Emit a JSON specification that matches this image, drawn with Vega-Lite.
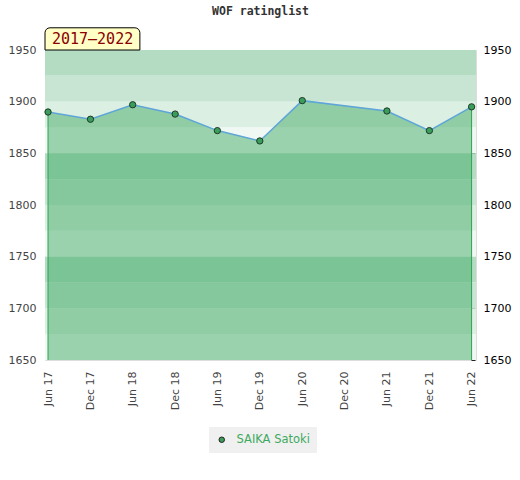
{
  "$schema": "https://vega.github.io/schema/vega-lite/v6.json",
  "description": "WOF ratinglist for SAIKA Satoki, 2017-2022",
  "autosize": "none",
  "padding": {"left": 45, "top": 50, "right": 44, "bottom": 120},
  "width": 431,
  "height": 310,
  "title": {
    "text": "WOF ratinglist",
    "font": "DejaVu Sans Mono",
    "fontSize": 11.5,
    "fontWeight": "bold",
    "color": "#333",
    "anchor": "middle",
    "offset": 10
  },
  "datasets": {
    "ratings": [
      {"date": "2017-06-01", "rating": 1890, "player": "SAIKA Satoki"},
      {"date": "2017-12-01", "rating": 1883, "player": "SAIKA Satoki"},
      {"date": "2018-06-01", "rating": 1897, "player": "SAIKA Satoki"},
      {"date": "2018-12-01", "rating": 1888, "player": "SAIKA Satoki"},
      {"date": "2019-06-01", "rating": 1872, "player": "SAIKA Satoki"},
      {"date": "2019-12-01", "rating": 1862, "player": "SAIKA Satoki"},
      {"date": "2020-06-01", "rating": 1901, "player": "SAIKA Satoki"},
      {"date": "2021-06-01", "rating": 1891, "player": "SAIKA Satoki"},
      {"date": "2021-12-01", "rating": 1872, "player": "SAIKA Satoki"},
      {"date": "2022-06-01", "rating": 1895, "player": "SAIKA Satoki"}
    ],
    "bands": [
      {"lo": 1925, "hi": 1950, "shade": "a"},
      {"lo": 1900, "hi": 1925, "shade": "b"},
      {"lo": 1875, "hi": 1900, "shade": "c"},
      {"lo": 1850, "hi": 1875, "shade": "d"},
      {"lo": 1825, "hi": 1850, "shade": "a"},
      {"lo": 1800, "hi": 1825, "shade": "b"},
      {"lo": 1775, "hi": 1800, "shade": "c"},
      {"lo": 1750, "hi": 1775, "shade": "d"},
      {"lo": 1725, "hi": 1750, "shade": "a"},
      {"lo": 1700, "hi": 1725, "shade": "b"},
      {"lo": 1675, "hi": 1700, "shade": "c"},
      {"lo": 1650, "hi": 1675, "shade": "d"}
    ]
  },
  "layer": [
    {
      "data": {"name": "bands"},
      "mark": {"type": "rect"},
      "encoding": {
        "y": {"field": "lo", "type": "quantitative", "scale": {"domain": [1650, 1950]}, "axis": null},
        "y2": {"field": "hi"},
        "color": {
          "field": "shade",
          "type": "nominal",
          "scale": {"domain": ["a", "b", "c", "d"], "range": ["#b3dcc3", "#c8e5d3", "#dcefe3", "#eff8f2"]},
          "legend": null
        }
      }
    },
    {
      "data": {"name": "ratings"},
      "mark": {"type": "area", "color": "#44ab67", "opacity": 0.5},
      "encoding": {
        "x": {
          "field": "date",
          "type": "temporal",
          "title": null,
          "scale": {
            "type": "utc",
            "nice": false,
            "domain": [
              {"year": 2017, "month": "may", "date": 19, "utc": true},
              {"year": 2022, "month": "jun", "date": 20, "utc": true}
            ]
          },
          "axis": {
            "values": [
              {"year": 2017, "month": "jun", "date": 1, "utc": true},
              {"year": 2017, "month": "dec", "date": 1, "utc": true},
              {"year": 2018, "month": "jun", "date": 1, "utc": true},
              {"year": 2018, "month": "dec", "date": 1, "utc": true},
              {"year": 2019, "month": "jun", "date": 1, "utc": true},
              {"year": 2019, "month": "dec", "date": 1, "utc": true},
              {"year": 2020, "month": "jun", "date": 1, "utc": true},
              {"year": 2020, "month": "dec", "date": 1, "utc": true},
              {"year": 2021, "month": "jun", "date": 1, "utc": true},
              {"year": 2021, "month": "dec", "date": 1, "utc": true},
              {"year": 2022, "month": "jun", "date": 1, "utc": true}
            ],
            "format": "%b %y",
            "labelAngle": -90,
            "labelColor": "#444",
            "labelFontSize": 11,
            "labelPadding": 11,
            "labelOverlap": false,
            "ticks": false,
            "domain": false,
            "grid": false
          }
        },
        "y": {
          "field": "rating",
          "type": "quantitative",
          "title": null,
          "scale": {"domain": [1650, 1950]},
          "axis": {
            "orient": "left",
            "values": [1650, 1700, 1750, 1800, 1850, 1900, 1950],
            "format": "d",
            "labelColor": "#444",
            "labelFontSize": 11,
            "labelPadding": 9,
            "ticks": false,
            "domain": false,
            "grid": false
          }
        },
        "y2": {"datum": 1650}
      }
    },
    {
      "data": {"name": "ratings"},
      "transform": [{"filter": "year(datum.date) == 2017 && month(datum.date) == 5 || year(datum.date) == 2022"}],
      "mark": {"type": "rule", "color": "#2ea44f", "strokeWidth": 1},
      "encoding": {
        "x": {"field": "date", "type": "temporal", "title": null},
        "y": {"field": "rating", "type": "quantitative", "scale": {"domain": [1650, 1950]}, "axis": null},
        "y2": {"datum": 1650}
      }
    },
    {
      "data": {"name": "ratings"},
      "mark": {"type": "line", "color": "#5ea5d8", "strokeWidth": 1.5},
      "encoding": {
        "x": {"field": "date", "type": "temporal", "title": null},
        "y": {
          "field": "rating",
          "type": "quantitative",
          "title": null,
          "scale": {"domain": [1650, 1950]},
          "axis": {
            "orient": "right",
            "values": [1650, 1660, 1670, 1680, 1690, 1700, 1710, 1720, 1730, 1740, 1750, 1760, 1770, 1780, 1790, 1800, 1810, 1820, 1830, 1840, 1850, 1860, 1870, 1880, 1890, 1900, 1910, 1920, 1930, 1940, 1950],
            "labelExpr": "datum.value % 50 == 0 ? format(datum.value, 'd') : ''",
            "labelColor": "#000",
            "labelFontSize": 11,
            "labelPadding": 8,
            "labelOverlap": false,
            "offset": -5,
            "ticks": true,
            "tickSize": 4,
            "tickColor": "#222",
            "domain": false,
            "grid": false
          }
        }
      }
    },
    {
      "data": {"name": "ratings"},
      "mark": {"type": "point", "filled": true, "size": 40, "opacity": 1, "stroke": "#1e3a28", "strokeWidth": 1},
      "encoding": {
        "x": {"field": "date", "type": "temporal", "title": null},
        "y": {"field": "rating", "type": "quantitative", "scale": {"domain": [1650, 1950]}, "axis": null},
        "color": {
          "field": "player",
          "type": "nominal",
          "scale": {"range": ["#3a9d5a"]},
          "legend": {
            "title": null,
            "orient": "none",
            "legendX": 164,
            "legendY": 377,
            "fillColor": "#f0f0f0",
            "padding": 7,
            "labelColor": "#3faa5f",
            "labelFontSize": 11.5,
            "labelOffset": 9,
            "symbolType": "circle",
            "symbolSize": 30,
            "symbolStrokeColor": "#222",
            "symbolStrokeWidth": 1,
            "symbolOpacity": 1
          }
        }
      }
    },
    {
      "data": {"values": [{}]},
      "mark": {"type": "rect", "fill": "#ffffc6", "stroke": "#000", "strokeWidth": 1, "cornerRadiusTopLeft": 5, "cornerRadiusTopRight": 5},
      "encoding": {
        "x": {"datum": {"year": 2017, "month": "may", "date": 19, "utc": true}, "type": "temporal"},
        "x2": {"datum": {"year": 2018, "month": "jul", "date": 2, "utc": true}},
        "y": {"datum": 1950, "type": "quantitative", "scale": {"domain": [1650, 1950]}, "axis": null},
        "y2": {"datum": 1971.5}
      }
    },
    {
      "data": {"values": [{}]},
      "mark": {"type": "text", "text": "2017–2022", "font": "DejaVu Sans Mono", "fontSize": 15, "color": "#8b0000", "baseline": "middle", "align": "center"},
      "encoding": {
        "x": {"datum": {"year": 2017, "month": "dec", "date": 10, "utc": true}, "type": "temporal"},
        "y": {"datum": 1960.5, "type": "quantitative", "scale": {"domain": [1650, 1950]}, "axis": null}
      }
    }
  ],
  "resolve": {"axis": {"y": "independent"}, "scale": {"color": "independent"}},
  "config": {
    "font": "DejaVu Sans",
    "view": {"stroke": "#ddd"}
  }
}
